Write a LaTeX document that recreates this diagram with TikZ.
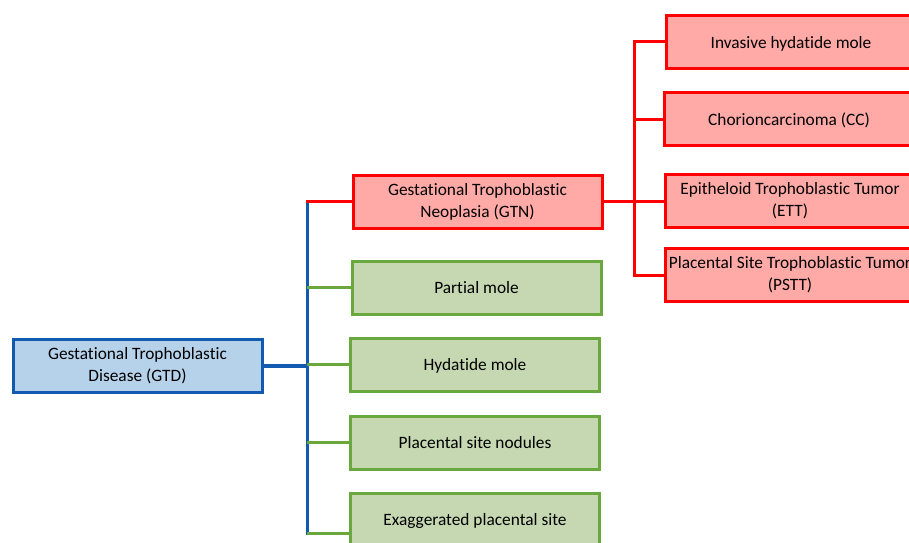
\documentclass[tikz,border=0pt]{standalone}
\usepackage{fontspec}
\setmainfont{Carlito}[Ligatures=NoCommon]
\definecolor{gtdblue}{RGB}{17,90,176}
\definecolor{gtdfill}{RGB}{182,210,235}
\definecolor{gtnred}{RGB}{255,0,0}
\definecolor{gtnfill}{RGB}{255,170,166}
\definecolor{molegreen}{RGB}{106,168,62}
\definecolor{molefill}{RGB}{197,216,178}
\tikzset{every picture/.style={line width=0.75pt}}
\tikzset{
  classbox/.style={draw, line width=2.25pt, minimum width=186.75pt, minimum height=39.75pt,
    align=center, inner sep=2pt, font=\fontsize{13}{16.5}\selectfont},
  oneline/.style={text depth=0pt},
  bluebox/.style={classbox, draw=gtdblue, fill=gtdfill},
  redbox/.style={classbox, draw=gtnred, fill=gtnfill, minimum width=187.5pt},
  greenbox/.style={classbox, oneline, draw=molegreen, fill=molefill},
  blueline/.style={draw=gtdblue, line width=2.25pt},
  redline/.style={draw=gtnred, line width=2.25pt},
  greenline/.style={draw=molegreen, line width=2.25pt}
}

\begin{document}
\begin{tikzpicture}[x=0.75pt,y=0.75pt,yscale=-1,xscale=1]
\clip (0,0) rectangle (909,542);

% Root node
\node [bluebox] (gtd) at (137.5,365.5) {Gestational Trophoblastic\\Disease (GTD)};

% Second level
\node [redbox, minimum width=186.75pt] (gtn) at (477.5,201.5) {Gestational Trophoblastic\\Neoplasia (GTN)};
\node [greenbox] (pm) at (476.5,287.5) {Partial mole};
\node [greenbox] (hm) at (475,364.5) {Hydatide mole};
\node [greenbox] (psn) at (475,442.5) {Placental site nodules};
\node [greenbox] (eps) at (475,519.5) {Exaggerated placental site};

% Third level (GTN)
\node [redbox, oneline] (ihm) at (791,42) {Invasive hydatide mole};
\node [redbox, oneline] (cc) at (789,119) {Chorioncarcinoma (CC)};
\node [redbox] (ett) at (790,201) {Epitheloid Trophoblastic Tumor\\(ETT)};
\node [redbox] (pstt) at (790,275) {Placental Site Trophoblastic Tumor\\(PSTT)};

% Blue trunk
\coordinate (trunk) at (307,365.5);
\coordinate (trunktop) at (307,201.5);
\coordinate (trunkbot) at (307,535);
\draw [blueline, line width=3pt] (gtd.east) -- (trunk);
\draw [blueline] ([yshift=-1.5pt]trunktop) -- (trunkbot);
\draw [redline] ([xshift=-1pt]trunktop) -- (gtn.west);

% Green branches
\draw [greenline] (trunk |- pm.west) -- (pm.west);
\draw [greenline] (trunk |- hm.west) -- (hm.west);
\draw [greenline] (trunk |- psn.west) -- (psn.west);
\draw [greenline] (trunk |- 0,533) -- (eps.west |- 0,533);

% Red branches
\coordinate (branch) at (634,201.5);
\draw [redline] (gtn.east) -- (branch);
\draw [redline, line cap=rect] (branch |- ihm.west) -- (branch |- pstt.west);
\foreach \leaf in {ihm,cc,ett,pstt}
  \draw [redline] (branch |- \leaf.west) -- (\leaf.west);

\end{tikzpicture}
\end{document}
